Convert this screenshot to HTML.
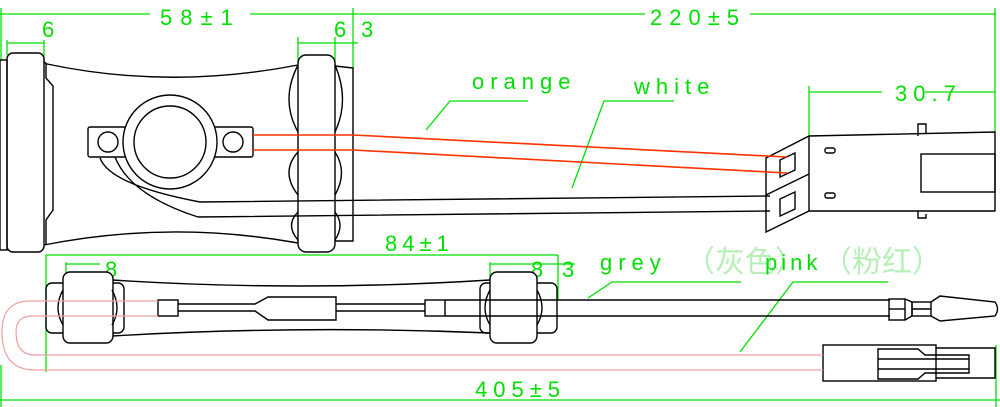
<!DOCTYPE html>
<html><head><meta charset="utf-8"><style>
html,body{margin:0;padding:0;background:#fff;}
svg{display:block;}
text{font-family:"Liberation Sans","Noto Sans CJK SC",sans-serif;}
</style></head><body>
<svg width="1000" height="407" viewBox="0 0 1000 407" xmlns="http://www.w3.org/2000/svg">
<g stroke="#00e000" stroke-width="1.3" fill="none">
<line x1="0" y1="14" x2="996" y2="14"/>
<line x1="1" y1="8" x2="1" y2="60"/>
<line x1="353" y1="8" x2="353" y2="68"/>
<line x1="995" y1="8" x2="995" y2="132"/>
<line x1="7" y1="43" x2="44" y2="43"/><line x1="7" y1="40" x2="7" y2="55"/><line x1="44" y1="40" x2="44" y2="62"/>
<line x1="298" y1="43" x2="358" y2="43"/><line x1="298" y1="37" x2="298" y2="62"/><line x1="335" y1="37" x2="335" y2="62"/>
<line x1="809" y1="92" x2="882" y2="92"/><line x1="925" y1="92" x2="995" y2="92"/><line x1="809" y1="86" x2="809" y2="136"/>
<polyline points="426,130 450,101 528,101"/>
<polyline points="572,188 604,101 674,101"/>
<line x1="46" y1="255" x2="558" y2="255"/>
<line x1="46" y1="255" x2="46" y2="372"/><line x1="558" y1="255" x2="558" y2="300"/>
<line x1="66" y1="264" x2="100" y2="264"/><line x1="66" y1="262" x2="66" y2="280"/>
<line x1="490" y1="264" x2="575" y2="264"/><line x1="490" y1="262" x2="490" y2="280"/>
<polyline points="588,298 612,282 741,282"/>
<polyline points="740,352 793,282 888,282"/>
<line x1="0" y1="400" x2="1000" y2="400"/>
<line x1="1" y1="365" x2="1" y2="407"/><line x1="996" y1="345" x2="996" y2="407"/>
</g>
<g fill="#00e000" font-size="22">
<rect x="150" y="4" width="100" height="20" fill="#fff"/>
<text x="160" y="25" letter-spacing="8">58±1</text>
<rect x="645" y="4" width="105" height="20" fill="#fff"/>
<text x="650" y="25" letter-spacing="7">220±5</text>
<text x="42" y="37">6</text>
<text x="334" y="37">6</text><text x="361" y="37">3</text>
<text x="472" y="89" letter-spacing="6">orange</text>
<text x="634" y="94" letter-spacing="6">white</text>
<text x="895" y="101" letter-spacing="6">30.7</text>
<text x="385" y="251" letter-spacing="5">84±1</text>
<text x="105" y="277">8</text>
<text x="531" y="277">8</text><text x="562" y="277">3</text>
<text x="600" y="270" letter-spacing="6">grey</text>
<text x="685" y="272" fill="#b8efb8" font-size="30">（灰色）</text>
<text x="765" y="270" letter-spacing="4">pink</text>
<text x="822" y="272" fill="#b8efb8" font-size="30">（粉红）</text>
<text x="475" y="397" letter-spacing="6">405±5</text>
<text x="146" y="141" font-size="9">MM2-287</text>
<text x="158" y="155" font-size="9">ONE</text>
</g>
<g stroke="#000" stroke-width="1.4" fill="none">
<rect x="0" y="60" width="7" height="190"/>
<rect x="7" y="53" width="37" height="199" rx="6"/>
<path d="M44,62 L47,64 Q170,90 298,65"/>
<path d="M44,245 Q170,220 298,243"/>
<path d="M46,64 L46,78 L53,86 L53,210 L46,220 L46,245"/>
<rect x="298" y="55" width="37" height="197" rx="8"/>
<path d="M335,66 L353,68 L353,241 L335,241"/>
<path d="M298,65 Q280,100 298,132 M298,152 Q280,172 298,195 M298,212 Q285,225 298,240"/>
<path d="M335,65 Q350,100 335,132 M335,152 Q348,172 335,195 M335,212 Q345,225 335,240"/>
<rect x="88" y="127" width="165" height="30" rx="2" fill="#fff"/>
<circle cx="170" cy="142" r="47" fill="#fff"/>
<circle cx="170" cy="142" r="36"/>
<circle cx="108" cy="142" r="10"/><circle cx="233" cy="142" r="10"/>
<path d="M100,158 Q110,185 200,202 L770,196"/>
<path d="M115,157 Q130,195 198,217 L770,211"/>
<path d="M766,158 L809,136 L995,132 L995,211 L809,211 L766,232 Z"/>
<line x1="809" y1="136" x2="809" y2="211"/>
<line x1="766" y1="195" x2="809" y2="174"/>
<path d="M780,160 L795,153 L795,170 L780,177 Z"/><path d="M780,199 L795,192 L795,209 L780,216 Z"/>
<rect x="825" y="148" width="10" height="5" rx="2"/><rect x="825" y="193" width="10" height="5" rx="2"/>
<rect x="921" y="154" width="74" height="38"/>
<path d="M918,136 L918,124 L926,124 L926,134 M918,211 L918,218 L926,218 L926,214"/>
<path d="M112,280 Q300,292 490,280"/>
<path d="M112,336 Q300,325 490,333"/>
<rect x="46" y="283" width="78" height="50" rx="6"/>
<rect x="63" y="272" width="50" height="71" rx="7" fill="#fff"/>
<path d="M63,290 Q53,308 63,325"/><path d="M112,290 Q122,308 112,325"/>
<rect x="480" y="283" width="77" height="50" rx="6"/>
<rect x="490" y="272" width="47" height="71" rx="7" fill="#fff"/>
<path d="M490,290 Q480,308 490,325"/><path d="M537,290 Q547,308 537,325"/>
<rect x="158" y="300" width="20" height="16"/>
<path d="M178,304 L255,304 L268,297 L336,297 L336,320 L268,320 L255,311 L178,311"/>
<path d="M336,304 L425,304 M336,311 L425,311"/>
<rect x="425" y="300" width="20" height="16"/>
<path d="M445,300 L890,300 M445,316 L890,316"/>
<rect x="889" y="299" width="16" height="21"/><line x1="889" y1="309" x2="905" y2="309"/>
<path d="M905,299 L912,302 L912,316 L905,320"/>
<rect x="912" y="302" width="19" height="14"/><line x1="912" y1="309" x2="931" y2="309"/>
<path d="M931,302 L940,296 L995,302 Q1000,309 995,316 L940,321 L931,316"/>
<rect x="823" y="345" width="113" height="36"/>
<path d="M936,348 L995,348 L995,378 L936,378"/>
<path d="M878,349 L918,349 L925,355 L969,355 L969,373 L925,373 L918,379 L878,379 Z"/>
<path d="M878,359 L969,359 M878,369 L969,369"/>
</g>
<g stroke="#ff3300" stroke-width="1.6" fill="none">
<polyline points="253,135 353,135 787,157"/>
<polyline points="253,150 353,150 787,173"/>
</g>
<g stroke="#f0a0a0" stroke-width="1.2" fill="none">
<path d="M158,301 L30,301 Q2,301 2,332 Q2,370 35,370 L823,370"/>
<path d="M158,316 L32,316 Q16,316 16,332 Q16,355 35,355 L823,355"/>
</g>
</svg>
</body></html>
